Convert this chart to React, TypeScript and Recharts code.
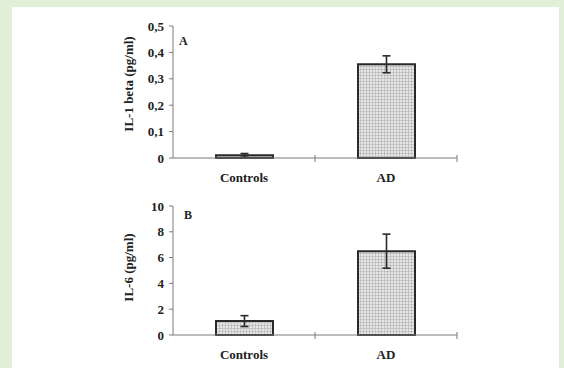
import React from 'react';
import { BarChart, Bar, XAxis, YAxis, ErrorBar } from 'recharts';

const categories = ['Controls', 'AD'];
const il1Values = [0.01, 0.355];
const il1Errors = [0.007, 0.032];
const il6Values = [1.08, 6.5];
const il6Errors = [0.42, 1.32];
const il1Ticks = [0, 0.1, 0.2, 0.3, 0.4, 0.5];
const il6Ticks = [0, 2, 4, 6, 8, 10];
const xTicks = [0.5, 1, 1.5, 2];

const FONT = '"Liberation Serif", "Times New Roman", serif';
const AXIS = '#7a7a7a';

const toRows = (values: number[], errors: number[]) =>
  categories.map((name, i) => ({ name, x: i + 0.5, value: values[i], err: errors[i] }));

const il1Data = toRows(il1Values, il1Errors);
const il6Data = toRows(il6Values, il6Errors);

const fmtComma = (v: number) => (v === 0 ? '0' : v.toFixed(1).replace('.', ','));

// category labels sit at the half positions, boundary ticks at the integers
const CatTick = (props: any) => {
  const { x, y, payload } = props;
  const v = payload.value;
  if (Number.isInteger(v)) {
    return <line x1={x} y1={y - 3} x2={x} y2={y + 4} stroke={AXIS} strokeWidth={1} />;
  }
  const label = categories[Math.floor(v)];
  return (
    <text x={x} y={y + 24} textAnchor="middle" fontFamily={FONT} fontWeight="bold" fontSize={13} fill="#222">
      {label}
    </text>
  );
};

const Panel = ({ data, ticks, domain, label, fmt, height, marginTop, xHeight, labelY }: any) => (
  <BarChart
    width={564}
    height={height}
    data={data}
    margin={{ top: marginTop, right: 107, bottom: 0, left: 110 }}
  >
    <defs>
      <pattern id="dots" patternUnits="userSpaceOnUse" width={3} height={3}>
        <rect width={3} height={3} fill="#e6e6e6" />
        <path d="M0 0.5 H3 M0.5 0 V3" stroke="#b8b8b8" strokeWidth={0.7} />
      </pattern>
    </defs>
    <XAxis
      dataKey="x"
      type="number"
      domain={[0, 2]}
      ticks={xTicks}
      interval={0}
      height={xHeight}
      tickLine={false}
      tickSize={0}
      tickMargin={0}
      axisLine={{ stroke: AXIS, strokeWidth: 1 }}
      tick={<CatTick />}
    />
    <YAxis
      width={63}
      domain={domain}
      ticks={ticks}
      interval={0}
      tickFormatter={fmt}
      tickSize={4}
      tickMargin={5}
      axisLine={{ stroke: AXIS, strokeWidth: 1 }}
      tickLine={{ stroke: AXIS }}
      tick={{ fontFamily: FONT, fontWeight: 'bold', fontSize: 13, fill: '#222' }}
      label={{
        value: label,
        angle: -90,
        position: 'insideLeft',
        offset: 18,
        dy: labelY,
        style: { textAnchor: 'middle', fontFamily: FONT, fontWeight: 'bold', fontSize: 13, fill: '#222' },
      }}
    />
    <Bar dataKey="value" barSize={57} fill="url(#dots)" stroke="#2a2a2a" strokeWidth={2} isAnimationActive={false}>
      <ErrorBar dataKey="err" width={4} stroke="#2a2a2a" strokeWidth={1.6} direction="y" />
    </Bar>
  </BarChart>
);

const letterStyle: React.CSSProperties = {
  position: 'absolute',
  fontFamily: FONT,
  fontWeight: 'bold',
  fontSize: 12,
  color: '#222',
  lineHeight: 1,
};

export default function App() {
  return (
    <div style={{ position: 'fixed', left: 0, top: 0, width: 564, height: 368, background: '#e2efd8', overflow: 'hidden' }}>
      <div style={{ position: 'absolute', left: 12, top: 7, width: 547, height: 361, background: '#ffffff' }} />
      <div style={{ position: 'absolute', left: 0, top: 0 }}>
        <Panel data={il1Data} ticks={il1Ticks} domain={[0, 0.5]} label="IL-1 beta (pg/ml)" fmt={fmtComma}
          height={190} marginTop={26} xHeight={32} labelY={-8} />
      </div>
      <div style={{ position: 'absolute', left: 0, top: 190 }}>
        <Panel data={il6Data} ticks={il6Ticks} domain={[0, 10]} label="IL-6 (pg/ml)" fmt={(v: number) => String(v)}
          height={178} marginTop={16} xHeight={33} labelY={-3} />
      </div>
      <div style={{ ...letterStyle, left: 179, top: 35 }}>A</div>
      <div style={{ ...letterStyle, left: 184, top: 209 }}>B</div>
    </div>
  );
}
